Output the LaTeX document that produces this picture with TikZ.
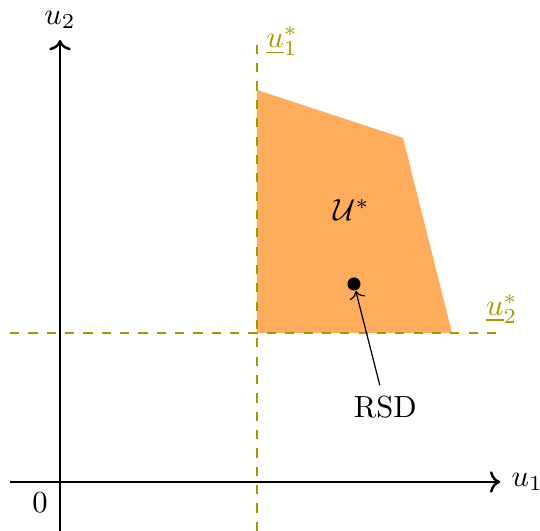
\documentclass[tikz,border=0pt]{standalone}
\usepackage{amsmath}
\usetikzlibrary{arrows.meta}
\definecolor{boundcol}{RGB}{164,152,0}
\definecolor{setcol}{RGB}{255,172,92}
\tikzset{
    axisarrow/.style={->, thick},
    boundline/.style={dashed, thick, boundcol},
    boundlabel/.style={text=boundcol}
}

\begin{document}
\begin{tikzpicture}
    \useasboundingbox (-0.690,-0.563) rectangle (5.517,5.540);
    \coordinate (o) at (0,0);
    \coordinate (xs) at (-0.575,0);
    \coordinate (xe) at (5.06,0);
    \coordinate (ys) at (0,-0.563);
    \coordinate (ye) at (0,5.08);

    \fill[setcol] (2.264,4.506) -- (3.943,3.954) -- (4.506,1.713) -- (2.264,1.713) -- cycle;
    \node at (3.35,3.13) {\(\mathcal{U}^*\)};

    \coordinate (v1) at (2.264,-0.563);
    \coordinate (v2) at (2.264,5.02);
    \coordinate (h1) at (-0.575,1.713);
    \coordinate (h2) at (5.06,1.713);
    \draw[boundline] (v1) -- (v2);
    \draw[boundline] (h1) -- (h2);
    \node[boundlabel, anchor=south west, inner sep=1pt] (b1) at (2.33,4.86) {\(\underline{u}_1^*\)};
    \node[boundlabel, anchor=south, inner sep=1pt] (b2) at (5.08,1.78) {\(\underline{u}_2^*\)};

    \draw[axisarrow] (xs) -- (xe) node[right] (u1) {\(u_1\)};
    \draw[axisarrow] (ys) -- (ye) node[above] (u2) {\(u_2\)};
    \node at (-0.23,-0.24) (zero) {0};

    \node[shape=circle, fill=black, inner sep=0pt, minimum size=0.15cm] (rsd) at (3.379,2.276) {};
    \node (rsdlabel) at (3.74,0.86) {RSD};
    \draw[->] (rsdlabel) -- (rsd);
\end{tikzpicture}
\end{document}
